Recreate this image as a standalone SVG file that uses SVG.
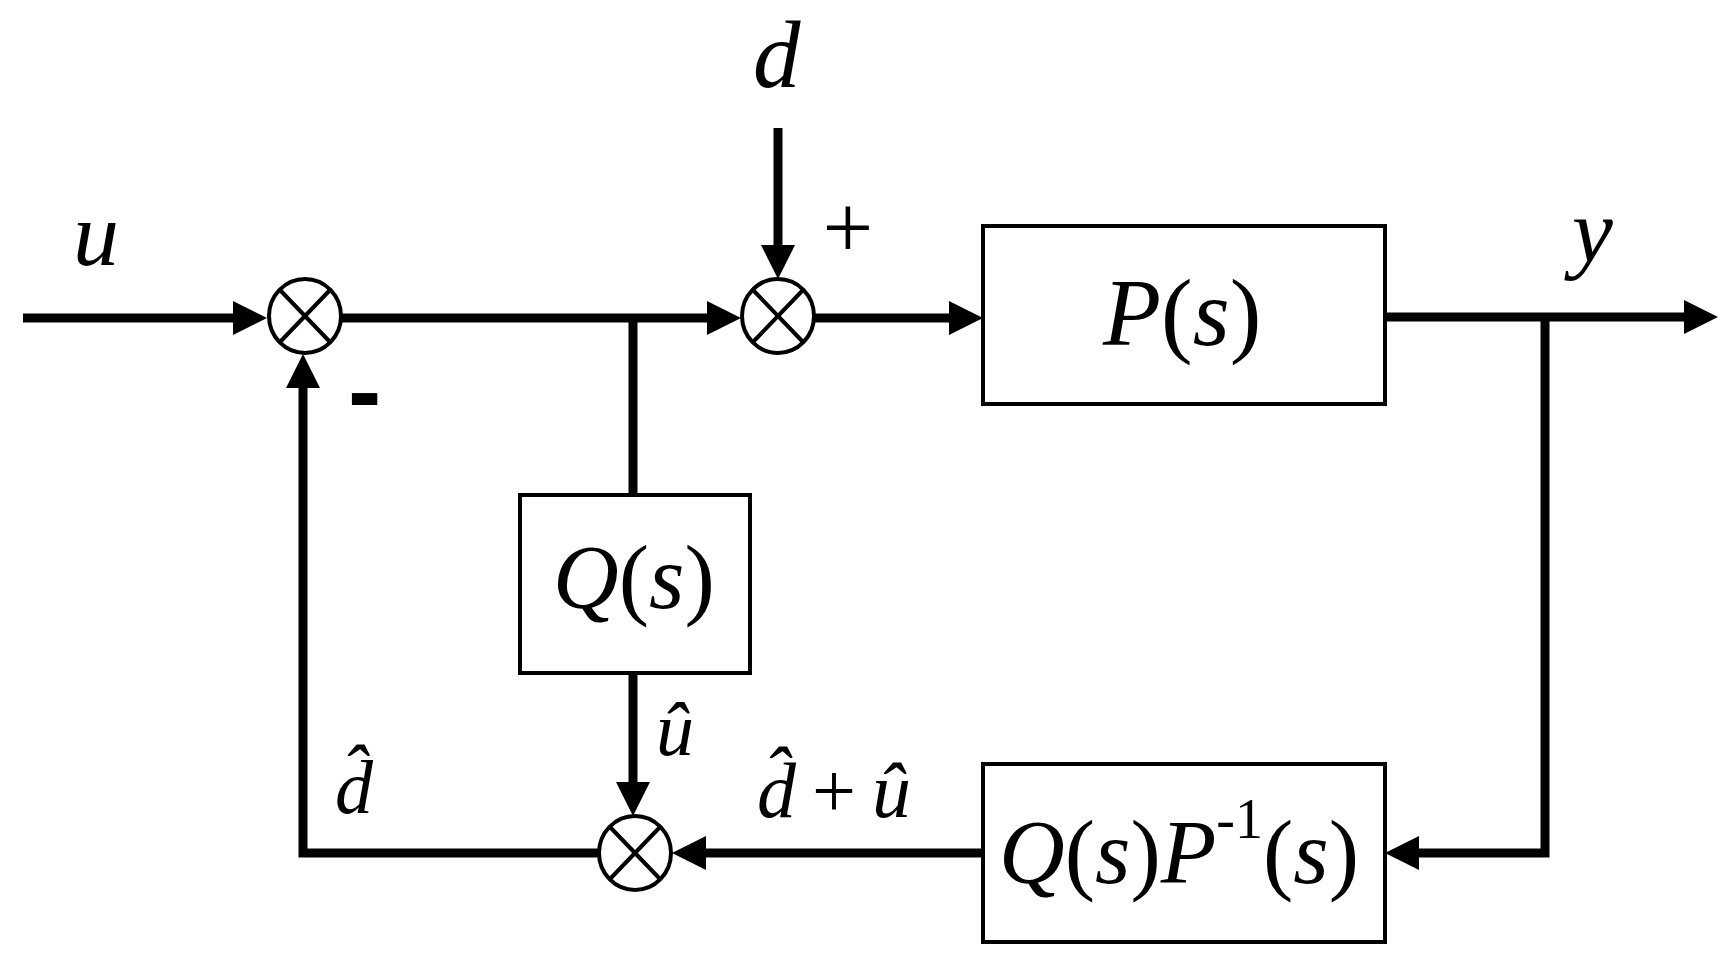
<svg xmlns="http://www.w3.org/2000/svg" width="1727" height="972" viewBox="0 0 1727 972">
<style>
.box{fill:#fff;stroke:#000;stroke-width:4}
.sum{fill:#fff;stroke:#000;stroke-width:4}
.x{stroke:#000;stroke-width:4}
.w{fill:none;stroke:#000;stroke-width:9;stroke-linejoin:miter}
.m{font-family:"Liberation Serif","Times New Roman",serif;font-style:italic;fill:#000}
.r{font-style:normal}
.s{font-family:"Liberation Serif","Times New Roman",serif;fill:#000}
</style>
<defs>
<marker id="ah" viewBox="0 0 34 34" refX="10" refY="17" markerWidth="34" markerHeight="34" markerUnits="userSpaceOnUse" orient="auto">
<path d="M0,0 L34,17 L0,34 z" fill="#000"/>
</marker>
</defs>
<rect width="1727" height="972" fill="#fff"/>
<g id="connectors">
<path class="w" d="M23,318 H243" marker-end="url(#ah)"/>
<path class="w" d="M341,318 H717" marker-end="url(#ah)"/>
<path class="w" d="M633,318 V495"/>
<path class="w" d="M778,128 V255" marker-end="url(#ah)"/>
<path class="w" d="M815,318 H959" marker-end="url(#ah)"/>
<path class="w" d="M1385,317 H1694" marker-end="url(#ah)"/>
<path class="w" d="M1545,317 V853 H1409" marker-end="url(#ah)"/>
<path class="w" d="M983,853 H696" marker-end="url(#ah)"/>
<path class="w" d="M633,673 V792" marker-end="url(#ah)"/>
<path class="w" d="M598,853 H303 V378" marker-end="url(#ah)"/>
</g>
<g id="sum1">
<ellipse class="sum" cx="305" cy="316" rx="36" ry="37"/>
<path class="x" d="M280,290 L330,342 M330,290 L280,342"/>
</g>
<g id="sum2">
<ellipse class="sum" cx="778" cy="316" rx="36" ry="37"/>
<path class="x" d="M753,290 L803,342 M803,290 L753,342"/>
</g>
<g id="sum3">
<ellipse class="sum" cx="635" cy="853" rx="36" ry="37"/>
<path class="x" d="M610,827 L660,879 M660,827 L610,879"/>
</g>
<g id="P">
<rect class="box" x="983" y="226" width="402" height="178"/>
<text class="m" x="1103" y="345" font-size="95">P<tspan class="r">(</tspan>s<tspan class="r">)</tspan></text>
</g>
<g id="Q">
<rect class="box" x="520" y="495" width="230" height="178"/>
<text class="m" x="553" y="608" font-size="91">Q<tspan class="r">(</tspan>s<tspan class="r">)</tspan></text>
</g>
<g id="QPinv">
<rect class="box" x="983" y="764" width="402" height="178"/>
<text class="m" x="999" y="883" font-size="91">Q<tspan class="r">(</tspan>s<tspan class="r">)</tspan>P<tspan class="r" font-size="56" dy="-45">-1</tspan><tspan class="r" dy="45">(</tspan>s<tspan class="r">)</tspan></text>
</g>
<g id="labels">
<text class="m" x="73" y="265" font-size="92">u</text>
<text class="m" x="753" y="87" font-size="95">d</text>
<text class="m" x="1572" y="262" font-size="92">y</text>
<text class="s" x="848" y="258" font-size="90" text-anchor="middle">+</text>
<text x="348" y="425" font-family="Liberation Sans, Arial, sans-serif" font-weight="bold" font-size="100" fill="#000">-</text>
<text class="m" x="656" y="755" font-size="76">û</text>
<text class="m" x="335" y="813" font-size="76">d̂</text>
<text class="m" x="757" y="817" font-size="78">d̂<tspan class="r" dx="16">+</tspan><tspan dx="16">û</tspan></text>
</g>
</svg>
